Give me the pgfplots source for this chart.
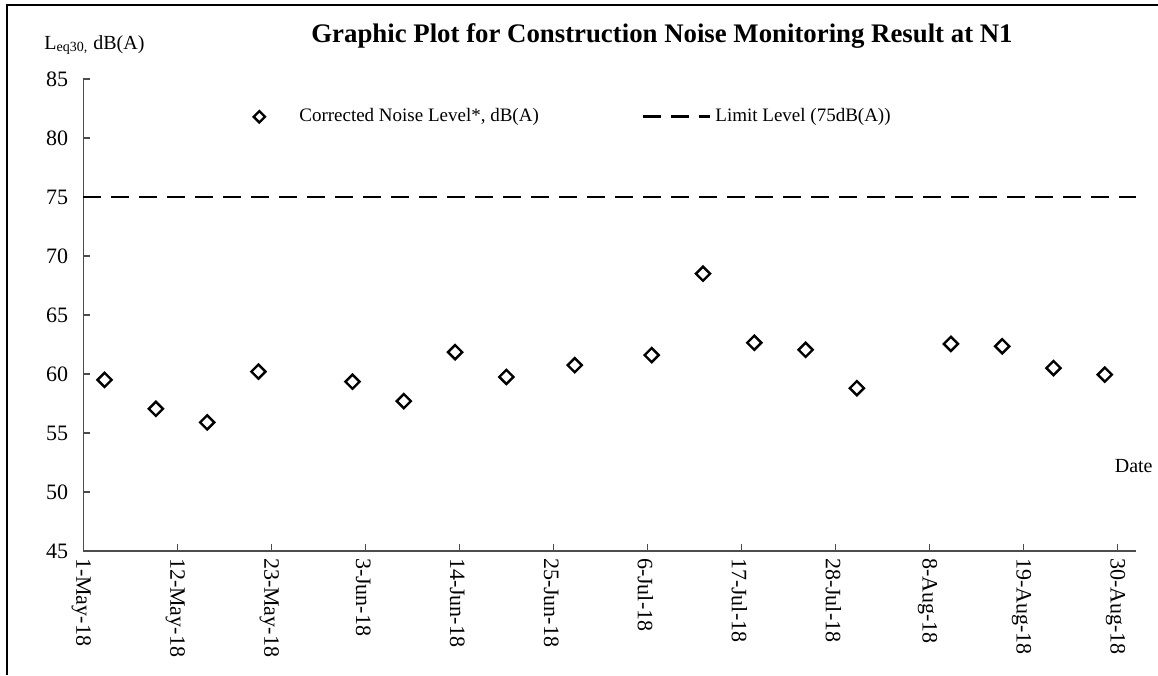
\documentclass[border=0pt]{standalone}
\usepackage{fontspec}
\setmainfont{Liberation Serif}
\usepackage{pgfplots}
\pgfplotsset{compat=1.18}
\pgfplotsset{limitleg/.style={legend image code/.code={\draw[##1] (0bp,0bp) -- (33.5bp,0bp);}},
  markleg/.style={legend image code/.code={\path[draw=none,fill=none] (0bp,0bp) -- (26bp,0bp); \draw[##1,mark size=2bp] plot coordinates {(8bp,0bp)};}}}
\begin{document}
\begin{tikzpicture}[x=1bp,y=1bp]
\useasboundingbox (0,0) rectangle (579,337.5);
\draw[line width=1bp,black] (3.6,0) -- (3.6,334.8) -- (579,334.8);
\node[anchor=base,font=\fontsize{13.4bp}{15bp}\selectfont\bfseries] at (331,316.5) {Graphic Plot for Construction Noise Monitoring Result at N1};
\node[anchor=base west,inner sep=0pt,font=\fontsize{10bp}{12bp}\selectfont] at (22,313) {L\textsubscript{eq30,} dB(A)};
\node[anchor=base east,inner sep=0pt,font=\fontsize{10bp}{12bp}\selectfont] at (576.5,101.5) {Date};
\begin{axis}[
  at={(41.6bp,62bp)}, anchor=origin,
  scale only axis, width=526.6bp, height=236bp,
  xmin=0, xmax=123.2, ymin=45, ymax=85,
  axis x line=bottom, axis y line=left,
  axis line style={-, line width=0.7bp, draw=black!70},
  tick style={line width=0.7bp, draw=black!70},
  tick align=inside,
  major tick length=3.4bp,
  xtick={0,11,22,33,44,55,66,77,88,99,110,121},
  xticklabels={1-May-18,12-May-18,23-May-18,3-Jun-18,14-Jun-18,25-Jun-18,6-Jul-18,17-Jul-18,28-Jul-18,8-Aug-18,19-Aug-18,30-Aug-18},
  ytick={45,50,...,85},
  /pgf/number format/assume math mode=true,
  ticklabel style={font=\fontsize{11bp}{13bp}\selectfont},
  xticklabel style={rotate=-90, anchor=west, yshift=-1bp},
  yticklabel style={xshift=-4bp},
  legend style={at={(0.146,0.92)}, anchor=west, draw=none, fill=none,
    font=\fontsize{9.5bp}{11bp}\selectfont,
    legend columns=2,
    /tikz/every even column/.append style={column sep=49.5bp}},
  clip=false,
]
\addplot[only marks, mark=square, mark size=2.5bp, mark options={rotate=45, line width=1.2bp, draw=black, fill=white}, markleg]
coordinates {
(2.5,59.5) (8.5,57.05) (14.5,55.9) (20.5,60.2) (31.5,59.35) (37.5,57.7)
(43.5,61.85) (49.5,59.75) (57.5,60.75) (66.5,61.6) (72.5,68.5) (78.5,62.65)
(84.5,62.05) (90.5,58.8) (101.5,62.55) (107.5,62.35) (113.5,60.5) (119.5,59.95)
};
\addlegendentry{Corrected Noise Level*, dB(A)}
\addplot[black, line width=1.3bp, dash pattern=on 9bp off 5bp, limitleg]
coordinates {(0,75) (123.2,75)};
\addlegendentry{Limit Level (75dB(A))}
\end{axis}
\end{tikzpicture}
\end{document}
